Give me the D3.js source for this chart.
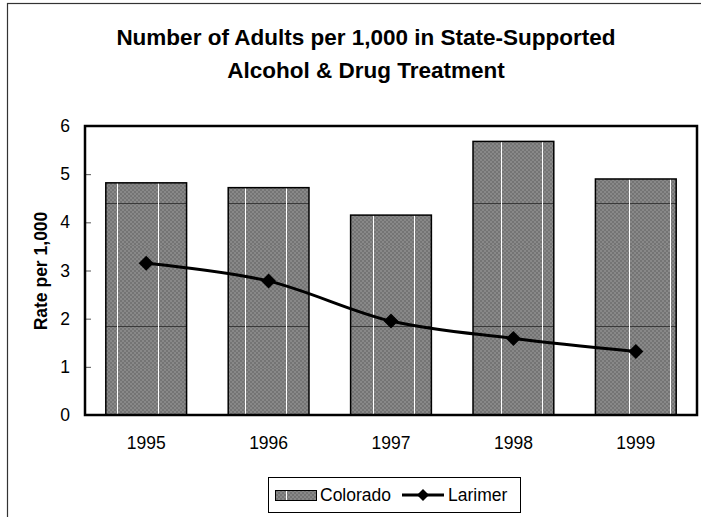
<!DOCTYPE html>
<meta charset="utf-8">
<style>
body { margin: 0; background: #fff; }
svg { font-family: "Liberation Sans", Arial, sans-serif; display: block; }
.title { font-size: 22.5px; font-weight: bold; }
.ytitle { font-size: 17.5px; font-weight: bold; }
.legend text { font-size: 17.5px; }
</style>
<svg width="701" height="517"></svg>
<script src="https://d3js.org/d3.v7.min.js"></script>
<script>

var years = ["1995", "1996", "1997", "1998", "1999"];
var colorado = [4.82, 4.72, 4.15, 5.68, 4.90];
var larimer = [3.15, 2.78, 1.95, 1.59, 1.32];
var yTicks = [0, 1, 2, 3, 4, 5, 6];

var svg = d3.select("svg");

var plot = {left: 85, top: 126, right: 697, bottom: 415};

var x = d3.scaleBand()
    .domain(years)
    .range([plot.left, plot.right])
    .paddingInner(0.34)
    .paddingOuter(0.17);

var y = d3.scaleLinear()
    .domain([0, 6])
    .range([plot.bottom, plot.top]);

// textures: small checker, then a big tile with the white/dark streaks
var defs = svg.append("defs");

var chk = defs.append("pattern")
    .attr("id", "chk")
    .attr("patternUnits", "userSpaceOnUse")
    .attr("width", 4).attr("height", 4);
chk.append("rect").attr("width", 4).attr("height", 4).attr("fill", "#747474");
chk.append("rect").attr("width", 2).attr("height", 2).attr("fill", "#888");
chk.append("rect").attr("x", 2).attr("y", 2).attr("width", 2).attr("height", 2).attr("fill", "#888");

var tile = defs.append("pattern")
    .attr("id", "barfill")
    .attr("patternUnits", "userSpaceOnUse")
    .attr("width", 128).attr("height", 123);
tile.append("rect").attr("width", 128).attr("height", 123).attr("fill", "url(#chk)");
tile.append("line").attr("x1", 0).attr("x2", 128).attr("y1", 80.5).attr("y2", 80.5)
    .attr("stroke", "#3a3a3a").attr("stroke-width", 1);
[30.5, 117.5].forEach(function(px) {
  tile.append("line").attr("x1", px).attr("x2", px).attr("y1", 0).attr("y2", 123)
      .attr("stroke", "#fff").attr("stroke-width", 1);
});

// outer chart frame (cropped at right and bottom)
svg.append("rect")
    .attr("x", 7.5).attr("y", 3.5)
    .attr("width", 740).attr("height", 560)
    .attr("fill", "none")
    .attr("stroke", "#333")
    .attr("stroke-width", 1.2);

svg.append("text")
    .attr("class", "title")
    .attr("text-anchor", "middle")
    .selectAll("tspan")
    .data(["Number of Adults per 1,000 in State-Supported", "Alcohol & Drug Treatment"])
    .enter().append("tspan")
      .attr("x", 366)
      .attr("y", function(d, i) { return 45 + i * 33; })
      .text(function(d) { return d; });

// bars
svg.append("g")
  .selectAll("rect")
  .data(colorado)
  .enter().append("rect")
    .attr("x", function(d, i) { return x(years[i]); })
    .attr("y", function(d) { return y(d); })
    .attr("width", x.bandwidth())
    .attr("height", function(d) { return y(0) - y(d); })
    .attr("fill", "url(#barfill)")
    .attr("stroke", "#000")
    .attr("stroke-width", 1.5);

// y axis, ticks pointing inward
var yAxis = svg.append("g")
    .attr("transform", "translate(" + plot.left + ",0)")
    .call(d3.axisLeft(y).tickValues(yTicks).tickFormat(d3.format("d"))
      .tickSize(-6).tickPadding(15));
yAxis.select(".domain").remove();
yAxis.selectAll(".tick line").attr("stroke", "#555");

var xAxis = svg.append("g")
    .attr("transform", "translate(0," + plot.bottom + ")")
    .call(d3.axisBottom(x).tickSize(0).tickPadding(22));
xAxis.select(".domain").remove();

svg.selectAll(".tick text")
    .attr("font-family", "'Liberation Sans', Arial, sans-serif")
    .attr("font-size", "17.5px")
    .attr("fill", "#000");

// plot border
svg.append("rect")
    .attr("x", plot.left).attr("y", plot.top)
    .attr("width", plot.right - plot.left)
    .attr("height", plot.bottom - plot.top)
    .attr("fill", "none")
    .attr("stroke", "#000")
    .attr("stroke-width", 2.5);

svg.append("text")
    .attr("class", "ytitle")
    .attr("text-anchor", "middle")
    .attr("transform", "translate(47,271) rotate(-90)")
    .text("Rate per 1,000");

// Larimer line
var line = d3.line()
    .x(function(d, i) { return x(years[i]) + x.bandwidth() / 2; })
    .y(function(d) { return y(d); })
    .curve(d3.curveCardinal.tension(0));

svg.append("path")
    .datum(larimer)
    .attr("d", line)
    .attr("fill", "none")
    .attr("stroke", "#000")
    .attr("stroke-width", 3);

var diamond = d3.symbol().type(d3.symbolSquare).size(112);

svg.append("g")
  .selectAll("path")
  .data(larimer)
  .enter().append("path")
    .attr("d", diamond)
    .attr("transform", function(d, i) {
      return "translate(" + (x(years[i]) + x.bandwidth() / 2) + "," + y(d) + ") rotate(45)";
    })
    .attr("fill", "#000");

// legend
var legend = svg.append("g").attr("class", "legend");
legend.append("rect")
    .attr("x", 268.5).attr("y", 477.5)
    .attr("width", 252).attr("height", 35)
    .attr("fill", "#fff")
    .attr("stroke", "#000");
legend.append("rect")
    .attr("x", 275.5).attr("y", 490.5)
    .attr("width", 41).attr("height", 10)
    .attr("fill", "url(#barfill)")
    .attr("stroke", "#000");
legend.append("text").attr("x", 320).attr("y", 501).text("Colorado");
legend.append("line")
    .attr("x1", 402).attr("x2", 444).attr("y1", 495).attr("y2", 495)
    .attr("stroke", "#000").attr("stroke-width", 3);
legend.append("path")
    .attr("d", d3.symbol().type(d3.symbolSquare).size(72))
    .attr("transform", "translate(423,495) rotate(45)");
legend.append("text").attr("x", 448).attr("y", 501).text("Larimer");

</script>
